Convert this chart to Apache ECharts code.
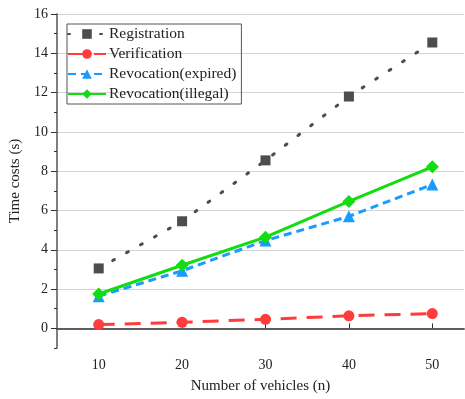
<!DOCTYPE html>
<html>
<head>
<meta charset="utf-8">
<script src="https://cdn.jsdelivr.net/npm/echarts@6/dist/echarts.min.js"></script>
<style>
  html, body { margin: 0; padding: 0; background: #fff; }
  #main { width: 465px; height: 399px; }
</style>
</head>
<body>
<div id="main"></div>
<script>
var vehicles = [10, 20, 30, 40, 50];
var registration = [3.05, 5.45, 8.55, 11.8, 14.55];
var verification = [0.19, 0.31, 0.46, 0.64, 0.75];
var revokeExpired = [1.64, 2.93, 4.47, 5.70, 7.32];
var revokeIllegal = [1.75, 3.21, 4.64, 6.46, 8.22];
var yLabels = [0, 2, 4, 6, 8, 10, 12, 14, 16];

function pairs(arr) {
  var out = [];
  for (var i = 0; i < vehicles.length; i++) out.push([vehicles[i], arr[i]]);
  return out;
}

var font = '"Liberation Serif", "Times New Roman", serif';
var axisColor = '#555';

var myChart = echarts.init(document.getElementById('main'));
var option = {
  animation: false,
  grid: { left: 55, top: 14, right: 1, bottom: 47 },
  legend: {
    orient: 'vertical',
    left: 67, top: 24,
    itemWidth: 38, itemHeight: 12, itemGap: 4,
    padding: [2, 5, 2, 0],
    borderColor: '#555', borderWidth: 1,
    textStyle: { fontFamily: font, fontSize: 15.5, color: '#222', padding: [0, 0, 0, -2] },
    data: ['Registration', 'Verification', 'Revocation(expired)', 'Revocation(illegal)']
  },
  xAxis: [{
    type: 'value', min: 5, max: 53.8,
    name: 'Number of vehicles (n)', nameLocation: 'middle', nameGap: 31,
    nameTextStyle: { fontFamily: font, fontSize: 15, color: '#222' },
    axisLine: { lineStyle: { color: axisColor, width: 1.5 } },
    axisTick: { inside: true, length: 5, customValues: vehicles, lineStyle: { color: '#333' } },
    axisLabel: { customValues: vehicles, fontFamily: font, fontSize: 14, color: '#222', margin: 10 },
    splitLine: { show: false }
  }, {
    type: 'value', position: 'top', min: 5, max: 53.8,
    axisLine: { lineStyle: { color: axisColor, width: 1.5 } },
    axisTick: { show: false }, axisLabel: { show: false }, splitLine: { show: false }
  }],
  yAxis: [{
    type: 'value', min: -1, max: 16, interval: 1,
    name: 'Time costs (s)', nameLocation: 'middle', nameGap: 34,
    nameTextStyle: { fontFamily: font, fontSize: 15, color: '#222' },
    axisLine: { show: true, lineStyle: { color: axisColor, width: 1.5 } },
    axisTick: { length: 3, lineStyle: { color: '#333' } },
    axisLabel: { show: false },
    splitLine: { lineStyle: { color: ['transparent', '#d4d4d4'], width: 1 } }
  }, {
    type: 'value', position: 'left', min: -1, max: 16, interval: 1,
    axisLine: { show: false },
    axisTick: { length: 6, customValues: yLabels, lineStyle: { color: '#333' } },
    axisLabel: { customValues: yLabels, fontFamily: font, fontSize: 14, color: '#222', margin: 9 },
    splitLine: { show: false }
  }],
  series: [{
    name: 'Registration', type: 'line', data: pairs(registration),
    symbol: 'rect', symbolSize: 10,
    itemStyle: { color: '#4d4d4d' },
    lineStyle: { color: '#4d4d4d', width: 3, type: [2, 14], cap: 'round' }
  }, {
    name: 'Verification', type: 'line', data: pairs(verification),
    symbol: 'circle', symbolSize: 11,
    itemStyle: { color: '#ff3b3b' },
    lineStyle: { color: '#ff3b3b', width: 3, type: [16, 10] }
  }, {
    name: 'Revocation(expired)', type: 'line', data: pairs(revokeExpired),
    symbol: 'triangle', symbolSize: 12,
    itemStyle: { color: '#1a9bff' },
    lineStyle: { color: '#1a9bff', width: 3, type: [8, 5] }
  }, {
    name: 'Revocation(illegal)', type: 'line', data: pairs(revokeIllegal),
    symbol: 'diamond', symbolSize: 13,
    itemStyle: { color: '#11dd11' },
    lineStyle: { color: '#11dd11', width: 3 }
  }]
};
myChart.setOption(option);
</script>
</body>
</html>
